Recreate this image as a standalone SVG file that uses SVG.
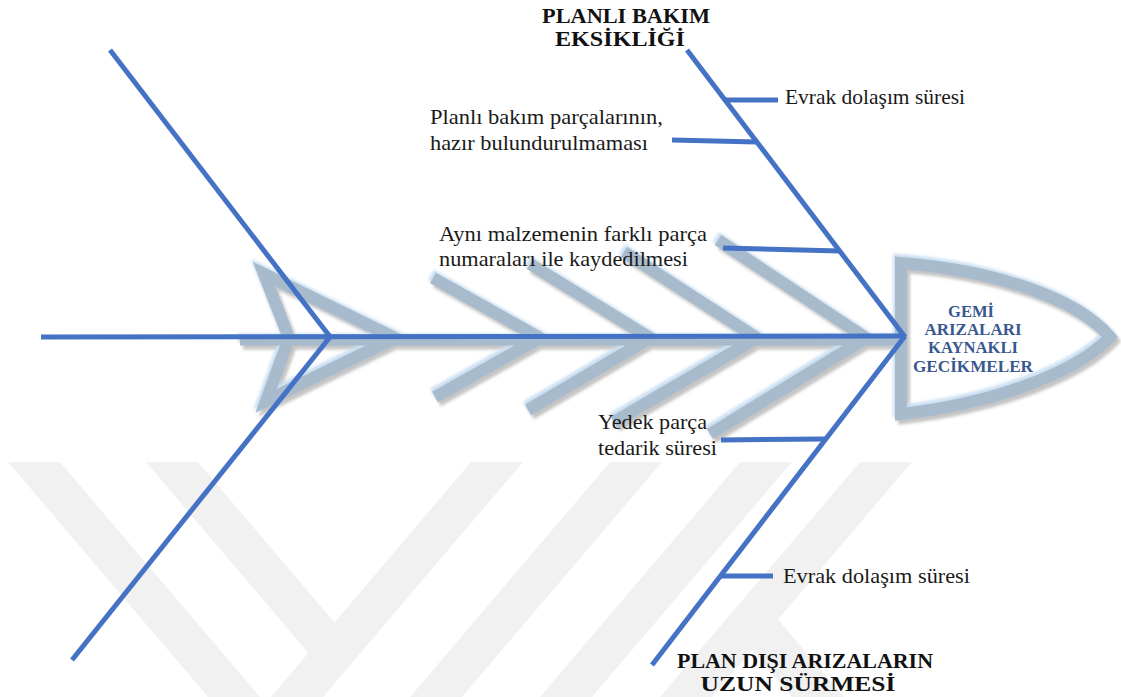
<svg xmlns="http://www.w3.org/2000/svg" xmlns:xlink="http://www.w3.org/1999/xlink" width="1121" height="697" viewBox="0 0 1121 697">
  <defs>
    <style>
      .bone { stroke: #4472c4; stroke-width: 5; fill: none; stroke-linecap: butt; }
      .lbl { font-family: "Liberation Serif", "DejaVu Serif", serif; font-size: 21px; fill: #1a1a1a; }
      .cat { font-family: "Liberation Serif", "DejaVu Serif", serif; font-size: 21px; font-weight: bold; fill: #111; text-anchor: middle; }
      .head { font-family: "Liberation Serif", "DejaVu Serif", serif; font-size: 16px; font-weight: bold; fill: #3a5890; text-anchor: middle; }
      .wm { fill: #f1f1f1; }
    </style>
    <filter id="soft" x="-10%" y="-10%" width="120%" height="120%">
      <feGaussianBlur stdDeviation="1.4"/>
    </filter>
    <!-- arrow shaft, chevrons and head outline, stroked by each <use> -->
    <g id="deco" fill="none" stroke-width="12" stroke-linejoin="miter">
      <line x1="240" y1="341" x2="895" y2="341" stroke-width="9"/>
      <path d="M264,274 L395,338 L266,401 L289,338 Z"/>
      <path d="M433,278 L540,338 L435,397"/>
      <path d="M530,264 L650,338 L528,410"/>
      <path d="M624,252 L757,338 L614,422"/>
      <path d="M718,240 L866,338 L710,434"/>
      <path d="M901,263 C990,270 1075,296 1110,337 C1075,374 990,404 901,414 Z"/>
    </g>
  </defs>

  <rect width="1121" height="697" fill="#ffffff"/>

  <!-- background mark -->
  <g id="watermark">
    <polygon class="wm" points="8,462 60,462 260,697 208,697"/>
    <polygon class="wm" points="471,462 523,462 323,697 271,697"/>
    <polygon class="wm" points="146,462 198,462 334.5,622.6 308.5,653.2"/>
    <polygon class="wm" points="610,462 662,462 462,697 410,697"/>
    <polygon class="wm" points="740,462 792,462 592,697 540,697"/>
    <polygon class="wm" points="860,462 912,462 712,697 660,697"/>
    <polygon class="wm" points="778,619.6 844,697 792,697 752,650"/>
  </g>

  <!-- shaded arrow body and head -->
  <g id="arrow-body">
    <use xlink:href="#deco" transform="translate(3,4)" stroke="#c4c4c4" filter="url(#soft)"/>
    <use xlink:href="#deco" transform="translate(-2,-3)" stroke="#cadff2" filter="url(#soft)"/>
    <use xlink:href="#deco" stroke="#a8bbcc"/>
  </g>

  <!-- fishbone lines -->
  <g id="connectors">
    <line class="bone" x1="41" y1="337" x2="903" y2="336"/>
    <line class="bone" x1="110" y1="50" x2="331" y2="338"/>
    <line class="bone" x1="330" y1="337" x2="72" y2="660"/>
    <line class="bone" x1="687" y1="50" x2="905" y2="337"/>
    <line class="bone" x1="905" y1="336" x2="652" y2="665"/>
    <line class="bone" x1="726" y1="100" x2="778" y2="100"/>
    <line class="bone" x1="672" y1="140" x2="757" y2="142"/>
    <line class="bone" x1="723" y1="248" x2="840" y2="251"/>
    <line class="bone" x1="721" y1="440" x2="825" y2="439"/>
    <line class="bone" x1="721" y1="576" x2="773" y2="576"/>
  </g>

  <g id="head-label">
    <text class="head" x="971" y="317" textLength="46" lengthAdjust="spacingAndGlyphs">GEMİ</text>
    <text class="head" x="973" y="335" textLength="97" lengthAdjust="spacingAndGlyphs">ARIZALARI</text>
    <text class="head" x="973" y="353" textLength="90" lengthAdjust="spacingAndGlyphs">KAYNAKLI</text>
    <text class="head" x="973" y="372" textLength="120" lengthAdjust="spacingAndGlyphs">GECİKMELER</text>
  </g>

  <g id="cat-planli-bakim">
    <text class="cat" x="626" y="23" textLength="168" lengthAdjust="spacingAndGlyphs">PLANLI BAKIM</text>
    <text class="cat" x="620" y="46" textLength="130" lengthAdjust="spacingAndGlyphs">EKSİKLİĞİ</text>
  </g>

  <g id="cat-plan-disi">
    <text class="cat" x="805" y="668" textLength="256" lengthAdjust="spacingAndGlyphs">PLAN DIŞI ARIZALARIN</text>
    <text class="cat" x="798" y="691" textLength="195" lengthAdjust="spacingAndGlyphs">UZUN SÜRMESİ</text>
  </g>

  <g id="cause-evrak-1">
    <text class="lbl" x="785" y="104" textLength="180" lengthAdjust="spacingAndGlyphs">Evrak dolaşım süresi</text>
  </g>

  <g id="cause-parca">
    <text class="lbl" x="430" y="124" textLength="233" lengthAdjust="spacingAndGlyphs">Planlı bakım parçalarının,</text>
    <text class="lbl" x="430" y="150" textLength="218" lengthAdjust="spacingAndGlyphs">hazır bulundurulmaması</text>
  </g>

  <g id="cause-numara">
    <text class="lbl" x="439" y="241" textLength="268" lengthAdjust="spacingAndGlyphs">Aynı malzemenin farklı parça</text>
    <text class="lbl" x="439" y="266" textLength="249" lengthAdjust="spacingAndGlyphs">numaraları ile kaydedilmesi</text>
  </g>

  <g id="cause-yedek">
    <text class="lbl" x="598" y="429" textLength="109" lengthAdjust="spacingAndGlyphs">Yedek parça</text>
    <text class="lbl" x="598" y="455" textLength="119" lengthAdjust="spacingAndGlyphs">tedarik süresi</text>
  </g>

  <g id="cause-evrak-2">
    <text class="lbl" x="783" y="583" textLength="187" lengthAdjust="spacingAndGlyphs">Evrak dolaşım süresi</text>
  </g>
</svg>
